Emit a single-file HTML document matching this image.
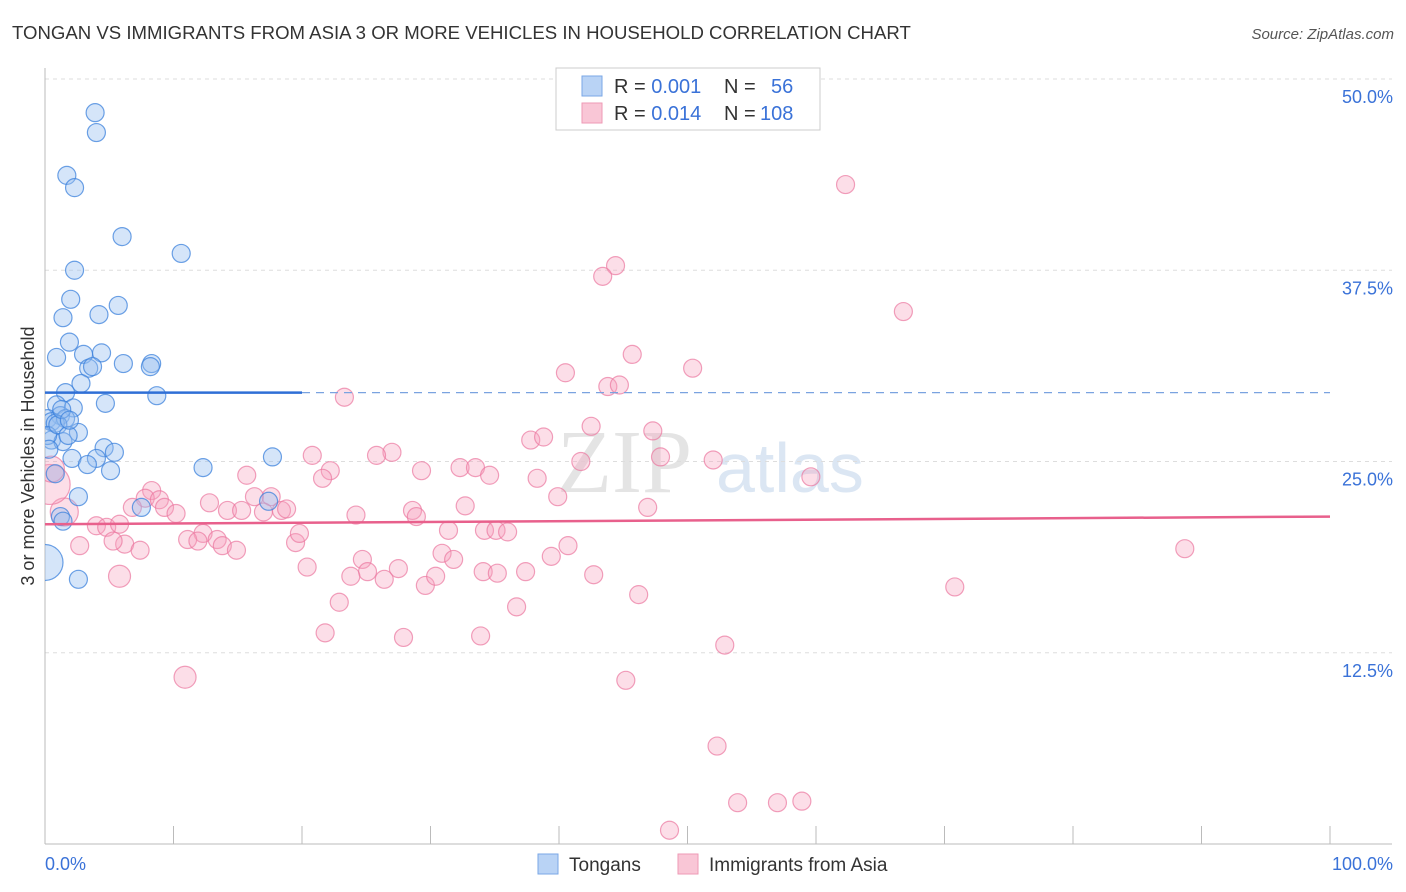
<!DOCTYPE html>
<html><head><meta charset="utf-8"><style>
body{margin:0;background:#fff;font-family:"Liberation Sans",sans-serif;}
#wrap{position:relative;width:1406px;height:892px;overflow:hidden;}
</style></head><body>
<div id="wrap">
<svg id="svg" width="1406" height="892" xmlns="http://www.w3.org/2000/svg">
<defs><clipPath id="plotclip"><rect x="45" y="60" width="1360" height="784"/></clipPath></defs>
<text x="12" y="39" font-size="18.6" fill="#333">TONGAN VS IMMIGRANTS FROM ASIA 3 OR MORE VEHICLES IN HOUSEHOLD CORRELATION CHART</text>
<text x="1394" y="39" font-size="15" fill="#555" font-style="italic" text-anchor="end">Source: ZipAtlas.com</text>
<text x="557" y="492" font-size="90" fill="#e4e4e4" font-family="Liberation Serif">ZIP</text>
<text x="716" y="492" font-size="70" fill="#dbe6f3">atlas</text>
<g id="grid"></g>
<g id="axes"></g>
<g id="pts" clip-path="url(#plotclip)"></g>
<g id="reg"></g>
<text transform="translate(34,456) rotate(-90)" font-size="18" fill="#333" text-anchor="middle">3 or more Vehicles in Household</text>
<g>
<rect x="556" y="68" width="264" height="62" fill="#fff" stroke="#ccc"/>
<rect x="582" y="76" width="20" height="20" fill="#b9d3f5" stroke="#7aa7e6"/>
<rect x="582" y="103" width="20" height="20" fill="#f9c6d6" stroke="#ee9ab5"/>
<text x="614" y="93" font-size="20" fill="#333">R = <tspan fill="#3a72d8">0.001</tspan><tspan x="724">N =</tspan><tspan x="771" fill="#3a72d8">56</tspan></text>
<text x="614" y="120" font-size="20" fill="#333">R = <tspan fill="#3a72d8">0.014</tspan><tspan x="724">N =</tspan><tspan x="760" fill="#3a72d8">108</tspan></text>
</g>
<g>
<rect x="538" y="854" width="20" height="20" fill="#b9d3f5" stroke="#7aa7e6"/>
<text x="569" y="871" font-size="19" fill="#333">Tongans</text>
<rect x="678" y="854" width="20" height="20" fill="#f9c6d6" stroke="#ee9ab5"/>
<text x="709" y="871" font-size="19" fill="#333">Immigrants from Asia</text>
</g>
</svg>
</div>
<script>
const blueX=[3.9,4.0,1.7,2.3,6.0,10.6,2.3,2.0,5.7,1.4,4.2,1.9,0.9,3.0,4.4,3.4,3.7,6.1,8.3,8.2,2.8,1.6,8.7,4.7,0.9,2.2,1.2,0.2,0.5,1.6,0.8,2.6,0.5,1.4,4.6,5.4,4.0,2.1,3.3,5.1,12.3,17.7,0.8,2.6,7.5,1.2,17.4,1.4,2.6,0,0.2,1.0,1.8,1.3,0.3,1.9];
const blueY=[47.8,46.5,43.7,42.9,39.7,38.6,37.5,35.6,35.2,34.4,34.6,32.8,31.8,32.0,32.1,31.1,31.2,31.4,31.4,31.2,30.1,29.5,29.3,28.8,28.7,28.5,28.0,27.8,27.6,27.8,27.5,26.9,26.4,26.3,25.9,25.6,25.2,25.2,24.8,24.4,24.6,25.3,24.2,22.7,22.0,21.4,22.4,21.1,17.3,18.4,26.7,27.4,26.7,28.4,25.8,27.7];
const blueR=[9,9,9,9,9,9,9,9,9,9,9,9,9,9,9,9,9,9,9,9,9,9,9,9,9,9,9,9,9,9,9,9,9,9,9,9,9,9,9,9,9,9,9,9,9,9,9,9,9,18,9,9,9,9,9,9];
const pinkX=[62.3,44.4,43.4,66.8,45.7,50.4,40.5,43.8,44.7,23.3,42.5,37.8,38.8,47.3,27.0,25.8,20.8,47.9,52.0,41.7,29.3,32.3,33.5,34.6,38.3,59.6,15.7,22.2,21.6,8.3,7.8,8.9,16.3,17.6,12.8,6.8,9.3,10.2,14.2,15.3,17.0,18.4,18.8,28.6,28.9,32.7,39.9,46.9,24.2,1.5,4.0,4.8,5.8,31.4,34.2,35.1,36.0,12.3,11.1,11.9,13.4,13.8,14.9,19.5,19.8,6.2,7.4,2.7,5.3,30.9,31.8,40.7,39.4,24.7,20.4,25.1,27.5,23.8,26.4,29.6,30.4,34.1,35.2,37.4,42.7,46.2,22.9,36.7,5.8,88.7,70.8,21.8,27.9,33.9,52.9,45.2,10.9,52.3,53.9,57.0,58.9,48.6,0.4,0.5];
const pinkY=[43.1,37.8,37.1,34.8,32.0,31.1,30.8,29.9,30.0,29.2,27.3,26.4,26.6,27.0,25.6,25.4,25.4,25.3,25.1,25.0,24.4,24.6,24.6,24.1,23.9,24.0,24.1,24.4,23.9,23.1,22.6,22.5,22.7,22.7,22.3,22.0,22.0,21.6,21.8,21.8,21.7,21.8,21.9,21.8,21.4,22.1,22.7,22.0,21.5,21.7,20.8,20.7,20.9,20.5,20.5,20.5,20.4,20.3,19.9,19.8,19.9,19.5,19.2,19.7,20.3,19.6,19.2,19.5,19.8,19.0,18.6,19.5,18.8,18.6,18.1,17.8,18.0,17.5,17.3,16.9,17.5,17.8,17.7,17.8,17.6,16.3,15.8,15.5,17.5,19.3,16.8,13.8,13.5,13.6,13.0,10.7,10.9,6.4,2.7,2.7,2.8,0.9,23.5,24.5];
const pinkR=[9,9,9,9,9,9,9,9,9,9,9,9,9,9,9,9,9,9,9,9,9,9,9,9,9,9,9,9,9,9,9,9,9,9,9,9,9,9,9,9,9,9,9,9,9,9,9,9,9,14,9,9,9,9,9,9,9,9,9,9,9,9,9,9,9,9,9,9,9,9,9,9,9,9,9,9,9,9,9,9,9,9,9,9,9,9,9,9,11,9,9,9,9,9,9,9,11,9,9,9,9,9,20,13];
const yTicks=[50,37.5,25,12.5];
const yTickLabels=["50.0%","37.5%","25.0%","12.5%"];
const xTickVals=[0,10,20,30,40,50,60,70,80,90,100];
const blueReg=[29.5,29.5];
const pinkReg=[20.9,21.4];

const NS="http://www.w3.org/2000/svg";
const X0=45,X1=1330,Y0=844,Y50=79;
function sx(v){return X0+(X1-X0)*v/100;}
function sy(v){return Y0-(Y0-Y50)*v/50;}
function mk(tag,attrs,parent){const e=document.createElementNS(NS,tag);for(const k in attrs)e.setAttribute(k,attrs[k]);document.getElementById(parent).appendChild(e);return e;}

yTicks.forEach((t,i)=>{
  const g=mk('line',{x1:X0,x2:1392,y1:sy(t),y2:sy(t),stroke:'#ddd','stroke-dasharray':'4,4'},'grid');
  
  
  const l=mk('text',{x:1393,y:sy(t)+24,'font-size':18,fill:'#3a72d8','text-anchor':'end'},'grid');
  l.textContent=yTickLabels[i];
  
  
});
const ax=mk('line',{x1:X0,x2:X0,y1:68,y2:Y0,stroke:'#bbb'},'axes');


const bx=mk('line',{x1:X0,x2:1392,y1:Y0,y2:Y0,stroke:'#bbb'},'axes');


xTickVals.forEach(t=>{
  const tk=mk('line',{x1:sx(t),x2:sx(t),y1:826,y2:Y0,stroke:'#bbb'},'axes');
  
  
});
const xl0=mk('text',{x:45,y:870,'font-size':18,fill:'#3a72d8'},'axes');xl0.textContent='0.0%';


const xl1=mk('text',{x:1393,y:870,'font-size':18,fill:'#3a72d8','text-anchor':'end'},'axes');xl1.textContent='100.0%';



pinkX.forEach((v,i)=>{
  const c=mk('circle',{cx:sx(v),cy:sy(pinkY[i]),r:pinkR[i],fill:'rgba(245,160,190,0.35)',stroke:'rgba(235,120,160,0.7)','stroke-width':1.2},'pts');
  
  
});
blueX.forEach((v,i)=>{
  const c=mk('circle',{cx:sx(v),cy:sy(blueY[i]),r:blueR[i],fill:'rgba(150,190,240,0.4)',stroke:'rgba(60,130,220,0.75)','stroke-width':1.2},'pts');
  
  
});
const b1=mk('line',{x1:sx(0),x2:sx(20),y1:sy(blueReg[0]),y2:sy(blueReg[0]+(blueReg[1]-blueReg[0])*0.2),stroke:'#2f6fd6','stroke-width':2.5},'reg');


const b2=mk('line',{x1:sx(20),x2:sx(100),y1:sy(blueReg[0]+(blueReg[1]-blueReg[0])*0.2),y2:sy(blueReg[1]),stroke:'#7aa3e0','stroke-width':1.2,'stroke-dasharray':'8,6'},'reg');


const p1=mk('line',{x1:sx(0),x2:sx(100),y1:sy(pinkReg[0]),y2:sy(pinkReg[1]),stroke:'#e8608c','stroke-width':2.5},'reg');


</script>
</body></html>
